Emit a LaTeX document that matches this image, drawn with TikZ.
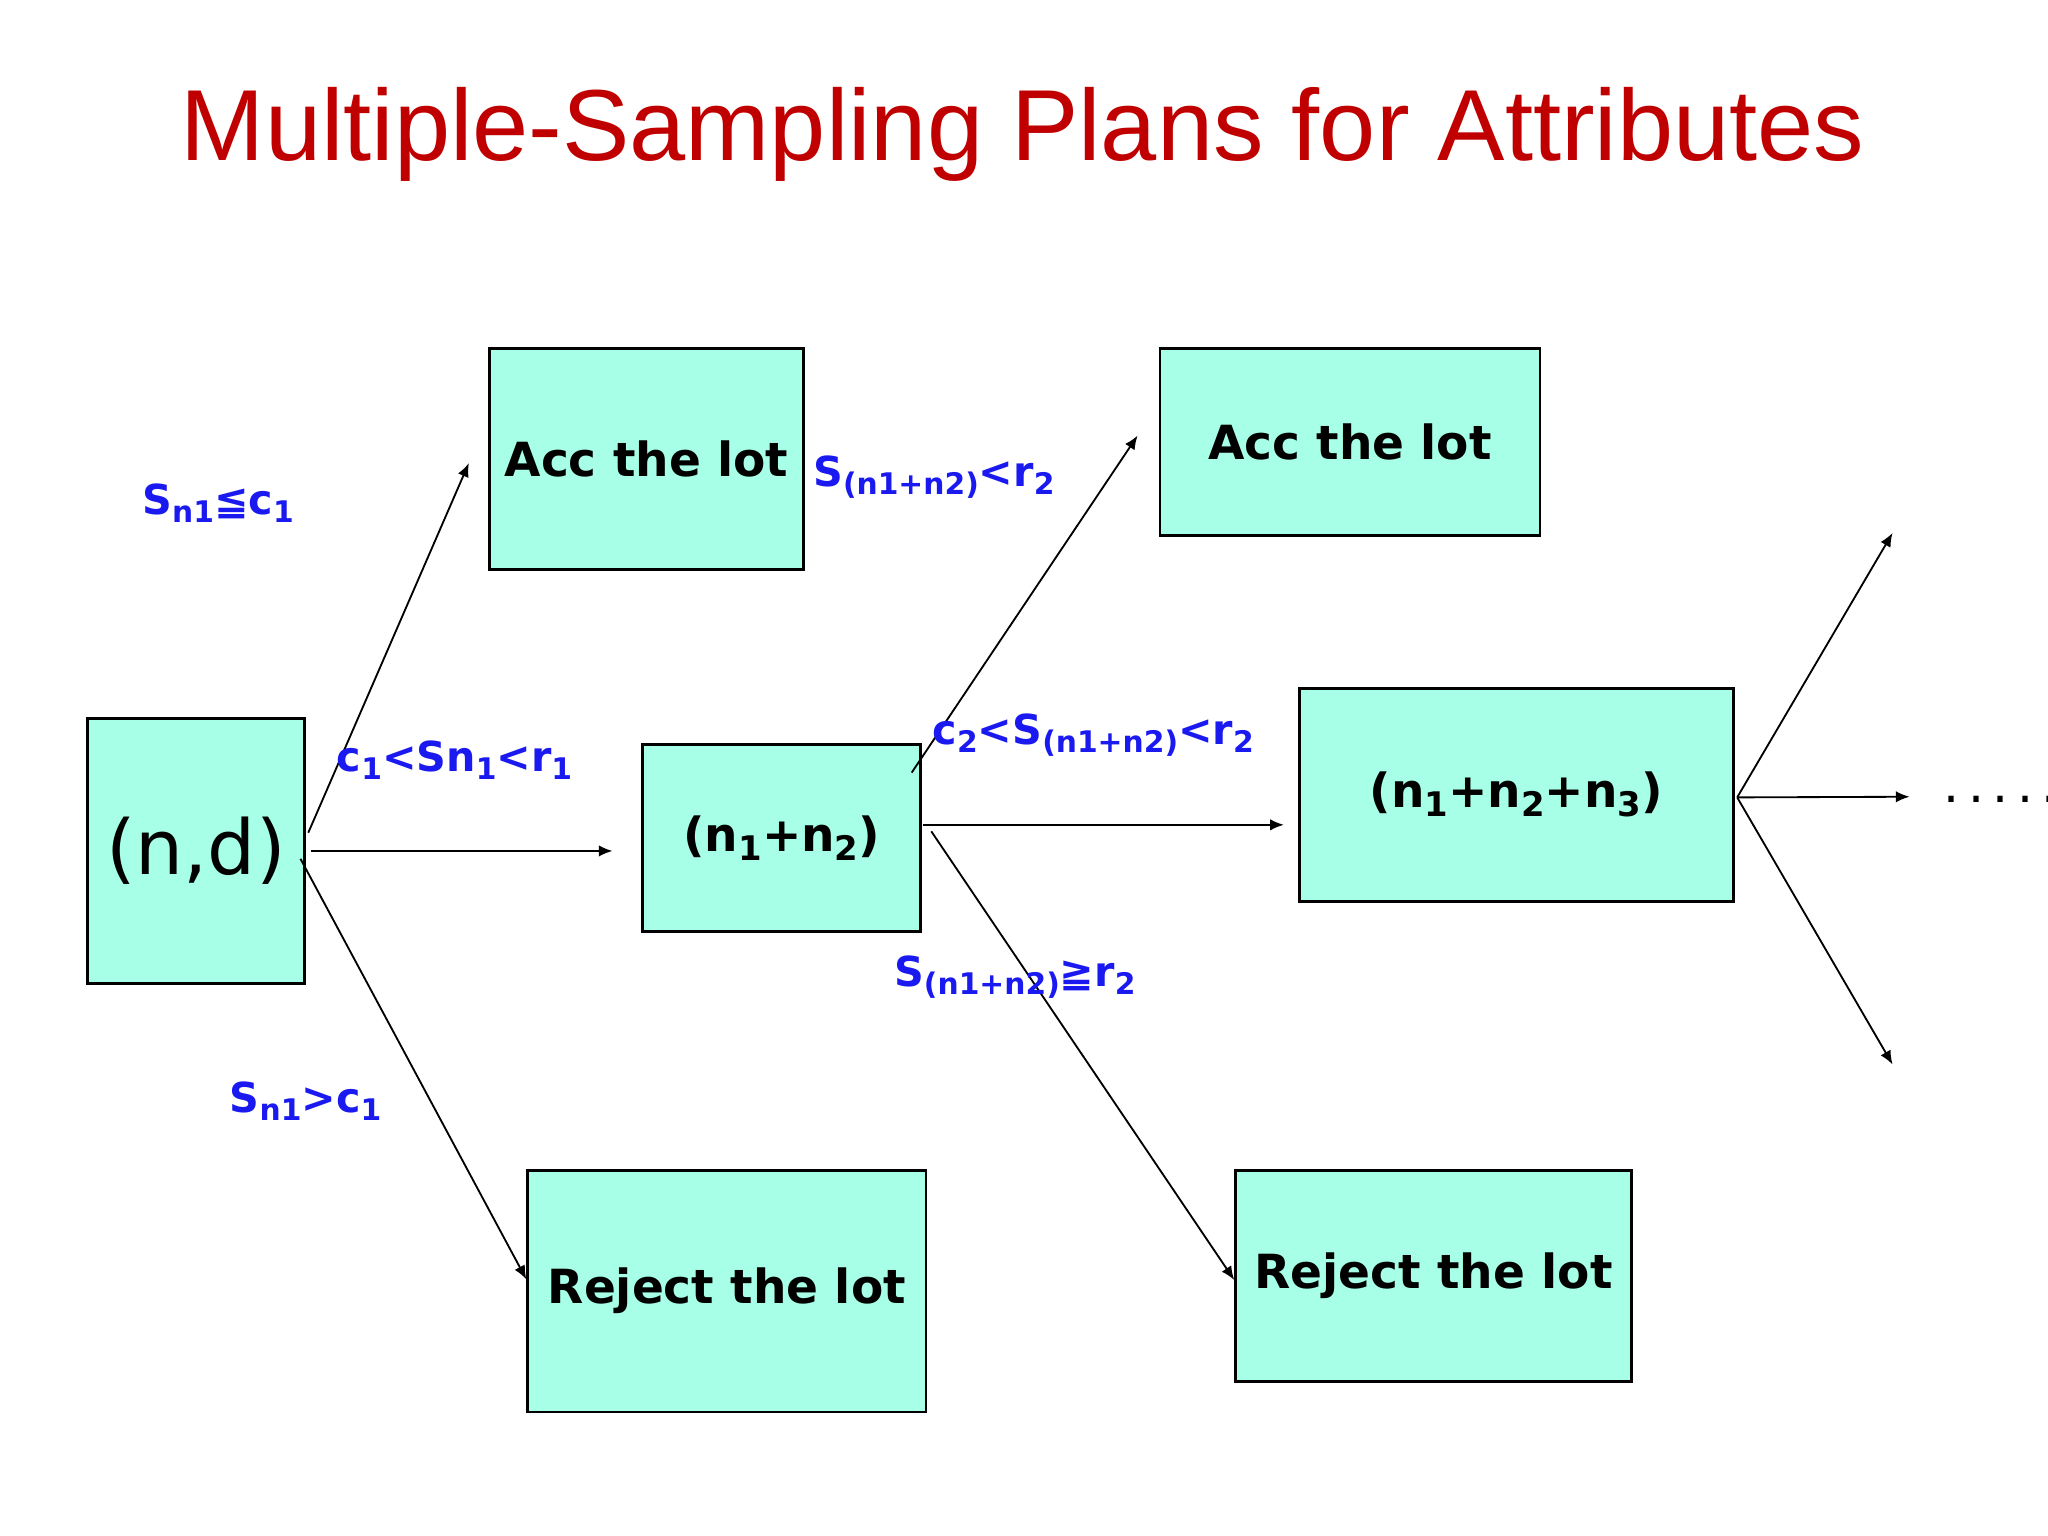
\documentclass[tikz,border=0pt]{standalone}
\usepackage{fontspec}
\setmainfont{DejaVu Sans}
\newfontfamily\titlefont{Liberation Sans}
\usetikzlibrary{arrows.meta}
\definecolor{boxfill}{HTML}{A6FFE6}
\definecolor{titlered}{HTML}{C00000}
\definecolor{lblue}{HTML}{1A1AF0}
\newcommand{\sbx}[1]{\raisebox{-0.35ex}{\scalebox{0.72}{#1}}}
\tikzset{
  bx/.style={draw=black, line width=1.2pt, fill=boxfill, font=\bfseries\fontsize{20.5}{24}\selectfont, inner sep=0pt},
  arr/.style={-{Latex[length=6pt,width=5pt]}, line width=0.8pt},
  lbl/.style={text=lblue, font=\bfseries\fontsize{18}{22}\selectfont, inner sep=0pt}
}
\begin{document}
\begin{tikzpicture}[x=0.02cm,y=-0.02cm]
\useasboundingbox (0,0) rectangle (1568,1176);
\node[text=titlered, font=\titlefont\fontsize{44}{52}\selectfont] (title) at (783,103) {Multiple-Sampling Plans for Attributes};
\node[bx, minimum width=3.32cm, minimum height=4.06cm, font=\fontsize{33}{40}\selectfont] (nd) at (150,651.5) {(n,d)};
\node[bx, minimum width=4.8cm, minimum height=3.38cm] (acc1) at (495,351.5) {Acc the lot};
\node[bx, minimum width=6.1cm, minimum height=3.7cm] (rej1) at (556.5,988.5) {Reject the lot};
\node[bx, minimum width=4.26cm, minimum height=2.86cm] (n12) at (598.5,641.5) {(n\sbx{1}+n\sbx{2})};
\node[bx, minimum width=5.82cm, minimum height=2.86cm] (acc2) at (1033.5,338.5) {Acc the lot};
\node[bx, minimum width=6.64cm, minimum height=3.26cm] (n123) at (1161,608.5) {(n\sbx{1}+n\sbx{2}+n\sbx{3})};
\node[bx, minimum width=6.06cm, minimum height=3.24cm] (rej2) at (1097.5,977) {Reject the lot};
\coordinate (u1) at (1449,408);
\coordinate (m1) at (1462,610);
\coordinate (d1) at (1449,815);
\node[font=\fontsize{22}{26}\selectfont, anchor=west, inner sep=0pt] (dots) at (1488,612) {.\,.\,.\,.\,.};
\draw[arr] ([shift={(2,-14)}]nd.east) -- ([shift={(-15,3)}]acc1.west);
\draw[arr] ([shift={(4,0)}]nd.east) -- ([shift={(-22,10)}]n12.west);
\draw[arr] ([shift={(-4,6)}]nd.east) -- ([shift={(0,-9)}]rej1.west);
\draw[arr] ([shift={(-8,-50)}]n12.east) -- ([shift={(-16,-5)}]acc2.west);
\draw[arr] ([shift={(1,-10)}]n12.east) -- ([shift={(-11,23)}]n123.west);
\draw[arr] ([shift={(7,-5)}]n12.east) -- ([shift={(0,3)}]rej2.west);
\draw[arr] ([shift={(2,2)}]n123.east) -- (u1);
\draw[arr] ([shift={(2,2)}]n123.east) -- (m1);
\draw[arr] ([shift={(2,2)}]n123.east) -- (d1);
\node[lbl] (l1) at (167,385) {S\sbx{n1}≦c\sbx{1}};
\node[lbl] (l2) at (348,582) {c\sbx{1}<Sn\sbx{1}<r\sbx{1}};
\node[lbl] (l3) at (234,843) {S\sbx{n1}>c\sbx{1}};
\node[lbl] (l4) at (715,365) {S\sbx{(n1+n2)}<r\sbx{2}};
\node[lbl] (l5) at (837,563) {c\sbx{2}<S\sbx{(n1+n2)}<r\sbx{2}};
\node[lbl] (l6) at (777,748) {S\sbx{(n1+n2)}≧r\sbx{2}};
\end{tikzpicture}
\end{document}
